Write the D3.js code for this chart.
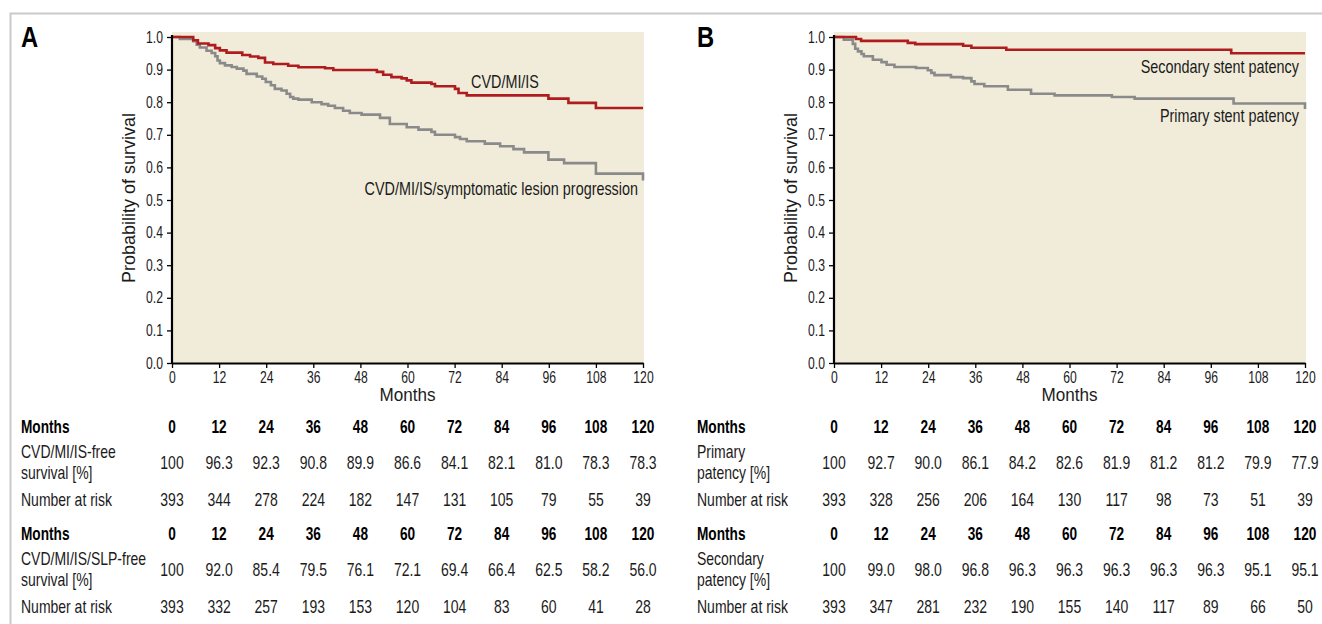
<!DOCTYPE html>
<html>
<head>
<meta charset="utf-8">
<script src="https://cdn.jsdelivr.net/npm/d3@7"></script>
<style>
  html, body { margin: 0; padding: 0; background: #ffffff; }
  svg { display: block; }
</style>
</head>
<body>
<svg id="chart" width="1322" height="624"></svg>
<script>
// ---------------- DATA ----------------
const months = [0, 12, 24, 36, 48, 60, 72, 84, 96, 108, 120];
const yTicks = [0, 0.1, 0.2, 0.3, 0.4, 0.5, 0.6, 0.7, 0.8, 0.9, 1.0];

// Panel A – Kaplan-Meier step curves (time in months, survival probability)
const cvdTimes = [0, 5.4, 6.6, 9.3, 11, 12.2, 13.9, 17.9, 19.9, 22, 23.7, 25.8, 29.6, 32.2, 39, 41.1, 52.2, 53.8, 55.9, 58.5, 59.8, 61, 66.1, 67, 72.1, 73, 75.1, 95.9, 101, 108, 120];
const cvdSurv  = [1.0, 0.990, 0.980, 0.975, 0.966, 0.959, 0.952, 0.945, 0.940, 0.936, 0.922, 0.917, 0.912, 0.907, 0.904, 0.899, 0.893, 0.884, 0.877, 0.873, 0.867, 0.860, 0.856, 0.849, 0.841, 0.828, 0.821, 0.811, 0.798, 0.782, 0.782];

const slpTimes = [0, 2, 5.4, 6.3, 7.1, 8.8, 10.1, 11, 11.6, 12.2, 13.5, 15.2, 16.5, 18.2, 19, 21.6, 23, 23.9, 25.2, 26.2, 27.9, 29.2, 30.1, 30.9, 32.2, 35.6, 38.1, 39.8, 41.5, 43.6, 45.3, 48.3, 53, 55.5, 59.8, 62.8, 66.1, 67, 72.1, 73.4, 75.1, 79.7, 83.6, 87, 89.7, 95.9, 99.9, 108, 120];
const slpSurv  = [1.0, 0.994, 0.987, 0.976, 0.968, 0.958, 0.951, 0.941, 0.928, 0.920, 0.913, 0.908, 0.903, 0.897, 0.887, 0.879, 0.872, 0.862, 0.852, 0.841, 0.836, 0.826, 0.816, 0.811, 0.808, 0.800, 0.794, 0.789, 0.782, 0.774, 0.767, 0.762, 0.752, 0.733, 0.723, 0.716, 0.709, 0.700, 0.693, 0.687, 0.680, 0.673, 0.665, 0.656, 0.646, 0.624, 0.613, 0.581, 0.560];

// Panel B
const secTimes = [0, 5.6, 6.9, 18.8, 20.7, 32.9, 35, 43.9, 101.2, 120];
const secSurv  = [1.0, 0.994, 0.988, 0.982, 0.978, 0.973, 0.967, 0.961, 0.950, 0.950];

const primTimes = [0, 2.5, 4.8, 5.4, 6.1, 7, 7.6, 9.9, 12.1, 13.4, 15.4, 20.9, 23.9, 24.8, 25.6, 29.8, 32.9, 35, 35.8, 38.3, 44.3, 50.2, 56.2, 70.8, 76.6, 101.8, 120];
const primSurv  = [1.0, 0.992, 0.979, 0.964, 0.956, 0.948, 0.941, 0.930, 0.923, 0.915, 0.908, 0.905, 0.898, 0.890, 0.883, 0.877, 0.874, 0.864, 0.856, 0.849, 0.838, 0.826, 0.821, 0.816, 0.811, 0.796, 0.779];

// Tables
const cvdFreePct  = [100, 96.3, 92.3, 90.8, 89.9, 86.6, 84.1, 82.1, 81.0, 78.3, 78.3];
const cvdAtRisk   = [393, 344, 278, 224, 182, 147, 131, 105, 79, 55, 39];
const slpFreePct  = [100, 92.0, 85.4, 79.5, 76.1, 72.1, 69.4, 66.4, 62.5, 58.2, 56.0];
const slpAtRisk   = [393, 332, 257, 193, 153, 120, 104, 83, 60, 41, 28];
const primPct     = [100, 92.7, 90.0, 86.1, 84.2, 82.6, 81.9, 81.2, 81.2, 79.9, 77.9];
const primAtRisk  = [393, 328, 256, 206, 164, 130, 117, 98, 73, 51, 39];
const secPct      = [100, 99.0, 98.0, 96.8, 96.3, 96.3, 96.3, 96.3, 96.3, 95.1, 95.1];
const secAtRisk   = [393, 347, 281, 232, 190, 155, 140, 117, 89, 66, 50];

// ---------------- DRAW ----------------
const RED = "#ae1c1f", GREY = "#8a8a8a", BG = "#f1ecda", INK = "#1b1b1b";
const SANS = '"Liberation Sans", Arial, Helvetica, sans-serif';
const svg = d3.select("#chart");

// condensed text helper: Liberation Sans squeezed horizontally
function ntext(parent, x, y, str, o = {}) {
  const sx = o.sx || 0.8;
  return parent.append("text")
    .attr("transform", `translate(${x},${y}) scale(${sx},1)`)
    .attr("text-anchor", o.anchor || "start")
    .attr("fill", o.fill || INK)
    .style("font-family", SANS)
    .style("font-size", (o.size || 17) + "px")
    .style("font-weight", o.bold ? "bold" : "normal")
    .text(str);
}

// outer frame
svg.append("path")
  .attr("d", "M10.5,624 L10.5,13.5 L1322,13.5")
  .attr("fill", "none").attr("stroke", "#c9c9c9").attr("stroke-width", 2);

function fmtPct(v) { return v === 100 ? "100" : v.toFixed(1); }

function panel(cfg) {
  const g = svg.append("g");
  const x = d3.scaleLinear().domain([0, 120]).range([cfg.x0, cfg.x0 + 471]);
  const y = d3.scaleLinear().domain([0, 1]).range([363, 37]);

  g.append("rect")
    .attr("x", x(0)).attr("y", y(1) - 5)
    .attr("width", x(120) - x(0) + 1).attr("height", y(0) - y(1) + 5)
    .attr("fill", BG);

  const line = d3.line().x(d => x(d[0])).y(d => y(d[1])).curve(d3.curveStepAfter);
  cfg.series.forEach(s => {
    const pts = s.t.map((t, i) => [t, s.v[i]]);
    g.append("path").datum(pts)
      .attr("d", line).attr("fill", "none")
      .attr("stroke", s.color).attr("stroke-width", 2.6);
  });

  // axes
  const TSX = 0.76;
  const ya = g.append("g").attr("transform", `translate(${x(0)},0)`)
    .call(d3.axisLeft(y).tickValues(yTicks).tickFormat(d3.format(".1f")).tickSize(5).tickSizeOuter(0).tickPadding(4));
  const xa = g.append("g").attr("transform", `translate(0,${y(0)})`)
    .call(d3.axisBottom(x).tickValues(months).tickSize(5).tickSizeOuter(0).tickPadding(4));
  [ya, xa].forEach(a => {
    a.select(".domain").attr("stroke", "#000").attr("stroke-width", 2.2);
    a.selectAll(".tick line").attr("stroke", "#000").attr("stroke-width", 1.3);
    a.selectAll(".tick text").attr("fill", INK)
      .style("font-family", SANS).style("font-size", "16px")
      .attr("transform", `scale(${TSX},1)`);
  });
  ya.selectAll(".tick text").attr("x", -9 / TSX);
  ya.select(".domain").attr("d", `M0,${y(0)}V${y(1) - 2}`);

  ntext(g, (x(0) + x(120)) / 2, 401, "Months", { anchor: "middle", size: 19, sx: 0.9 });

  g.append("text")
    .attr("transform", `translate(${cfg.ylabX},198) rotate(-90)`)
    .attr("text-anchor", "middle").attr("fill", INK)
    .style("font-family", SANS).style("font-size", "18px")
    .text("Probability of survival");

  ntext(g, cfg.labX, 47, cfg.letter, { size: 29, bold: true, sx: 0.82, fill: "#000" });

  cfg.notes.forEach(n => ntext(g, n.x, n.y, n.text, { anchor: n.anchor, size: 18, sx: 0.8 }));

  // tables
  cfg.blocks.forEach(b => {
    const tg = g.append("g");
    const o = { size: 17.5, sx: 0.8 };
    const ob = { size: 17.5, sx: 0.78, bold: true, fill: "#000" };
    ntext(tg, cfg.labX, b.top, "Months", ob);
    months.forEach(m => ntext(tg, x(m), b.top, m, Object.assign({ anchor: "middle" }, ob)));
    b.label.forEach((l, i) => ntext(tg, cfg.labX, b.top + 25 + i * 21, l, o));
    b.pct.forEach((v, i) => ntext(tg, x(months[i]), b.top + 36, fmtPct(v), Object.assign({ anchor: "middle" }, o)));
    ntext(tg, cfg.labX, b.top + 73, "Number at risk", o);
    b.risk.forEach((v, i) => ntext(tg, x(months[i]), b.top + 73, v, Object.assign({ anchor: "middle" }, o)));
  });
}

panel({
  x0: 172, ylabX: 135, labX: 21, letter: "A",
  series: [
    { t: slpTimes, v: slpSurv, color: GREY },
    { t: cvdTimes, v: cvdSurv, color: RED }
  ],
  notes: [
    { x: 505, y: 88, anchor: "middle", text: "CVD/MI/IS" },
    { x: 638, y: 195, anchor: "end", text: "CVD/MI/IS/symptomatic lesion progression" }
  ],
  blocks: [
    { top: 433, label: ["CVD/MI/IS-free", "survival [%]"], pct: cvdFreePct, risk: cvdAtRisk },
    { top: 540, label: ["CVD/MI/IS/SLP-free", "survival [%]"], pct: slpFreePct, risk: slpAtRisk }
  ]
});

panel({
  x0: 834, ylabX: 797, labX: 697, letter: "B",
  series: [
    { t: primTimes, v: primSurv, color: GREY },
    { t: secTimes, v: secSurv, color: RED }
  ],
  notes: [
    { x: 1299, y: 73, anchor: "end", text: "Secondary stent patency" },
    { x: 1299, y: 122, anchor: "end", text: "Primary stent patency" }
  ],
  blocks: [
    { top: 433, label: ["Primary", "patency [%]"], pct: primPct, risk: primAtRisk },
    { top: 540, label: ["Secondary", "patency [%]"], pct: secPct, risk: secAtRisk }
  ]
});
</script>
</body>
</html>
